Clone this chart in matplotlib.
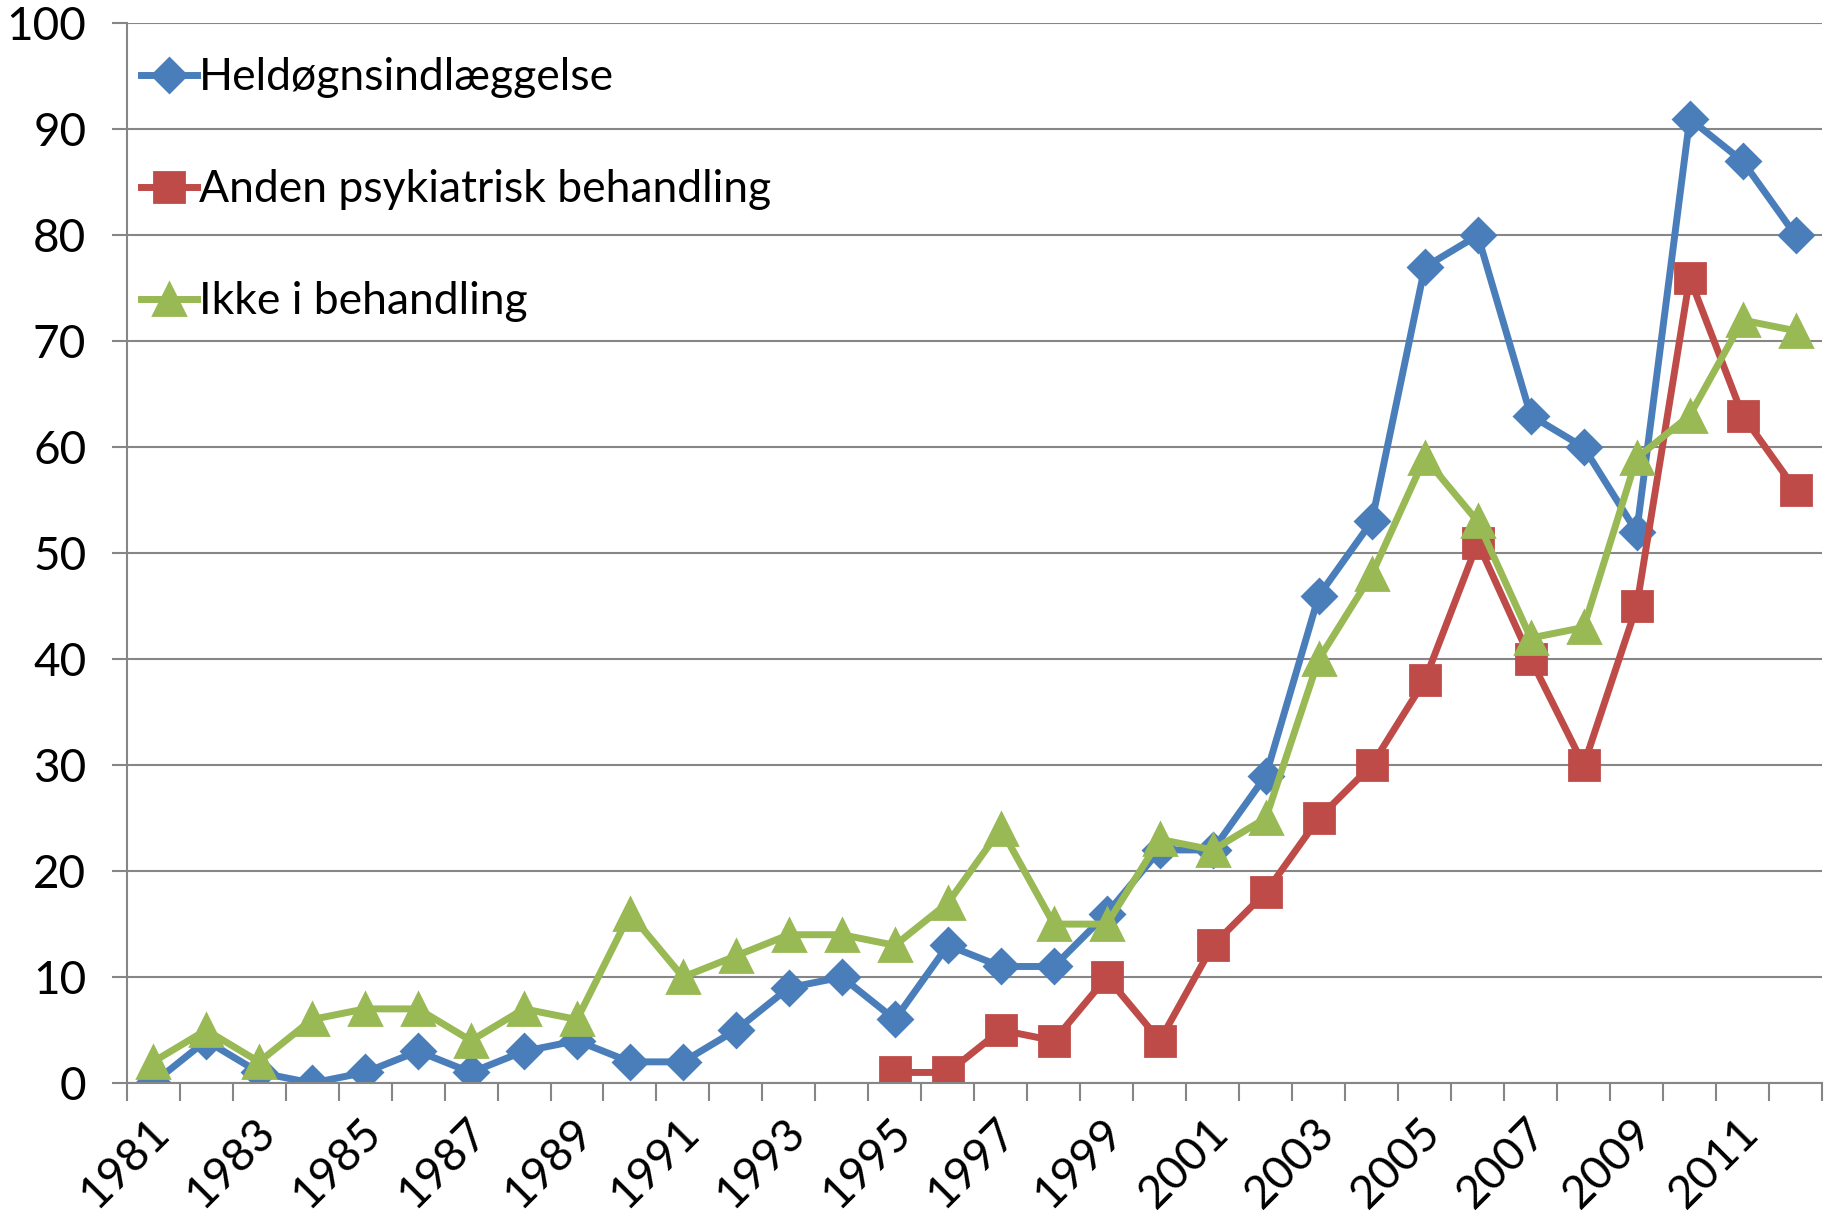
import numpy as np
import matplotlib.pyplot as plt
import matplotlib.transforms as mtransforms

plt.rcParams['font.family'] = ['Lato', 'DejaVu Sans']

years = list(range(1981, 2013))
heldogn = [0, 4, 1, 0, 1, 3, 1, 3, 4, 2, 2, 5, 9, 10, 6, 13, 11, 11, 16, 22,
           22, 29, 46, 53, 77, 80, 63, 60, 52, 91, 87, 80]
anden = [np.nan] * 14 + [1, 1, 5, 4, 10, 4, 13, 18, 25, 30, 38, 51, 40, 30,
                         45, 76, 63, 56]
ikke = [2, 5, 2, 6, 7, 7, 4, 7, 6, 16, 10, 12, 14, 14, 13, 17, 24, 15, 15, 23,
        22, 25, 40, 48, 59, 53, 42, 43, 59, 63, 72, 71]
labels = ['Heldøgnsindlæggelse', 'Anden psykiatrisk behandling', 'Ikke i behandling']

fig = plt.figure(figsize=(18.35, 12.15), dpi=100)
ax = fig.add_axes([0.069, 0.1086, 0.924, 0.8721])

x = np.arange(len(years))
ax.plot(x, heldogn, color='#4A7EBB', lw=5, marker='D', ms=17, mew=2,
        mec='#4A7EBB', label=labels[0])
ax.plot(x, anden, color='#BE4B48', lw=5, marker='s', ms=21, mew=2,
        mec='#BE4B48', label=labels[1])
ax.plot(x, ikke, color='#98B954', lw=5, marker='^', ms=23, mew=2,
        mec='#98B954', label=labels[2])

ax.set_xlim(-0.5, len(years) - 0.5)
ax.set_ylim(0, 100)
ax.set_yticks(np.arange(0, 101, 10))
ax.yaxis.grid(True, color='#868686', lw=1.5)
ax.set_axisbelow(True)

for s in ['top', 'right']:
    ax.spines[s].set_visible(False)
for s in ['left', 'bottom']:
    ax.spines[s].set_color('#868686')
    ax.spines[s].set_linewidth(1.5)

ax.set_xticks(x[::2])
ax.set_xticklabels([str(y) for y in years[::2]])
ax.set_xticks(np.arange(-0.5, len(years), 1), minor=True)
ax.tick_params(axis='x', which='major', length=0, labelsize=33, pad=20)
ax.tick_params(axis='x', which='minor', length=13, width=1.5, color='#868686')
ax.tick_params(axis='y', length=11, width=1.5, color='#868686', labelsize=33, pad=18)

offset = mtransforms.ScaledTranslation(-6 / 100, 0, fig.dpi_scale_trans)
for lab in ax.get_xticklabels():
    lab.set_rotation(45)
    lab.set_rotation_mode('anchor')
    lab.set_ha('right')
    lab.set_va('top')
    lab.set_transform(lab.get_transform() + offset)

ax.legend(loc='upper left', bbox_to_anchor=(-0.002, 0.985), frameon=False,
          fontsize=32, numpoints=1, handlelength=1.25, handletextpad=0.05,
          labelspacing=1.6, borderaxespad=0)

fig.savefig('out.png', dpi=100)
